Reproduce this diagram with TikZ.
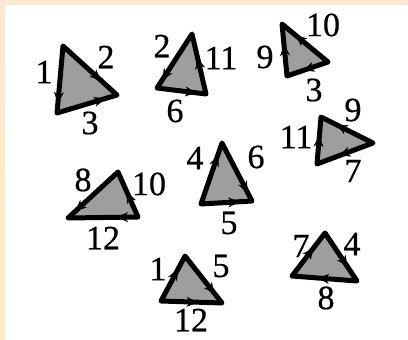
\documentclass[tikz,border=0pt]{standalone}
\usepackage{fontspec}
\setmainfont{Liberation Serif}[FakeBold=0.6]
\usetikzlibrary{arrows.meta,decorations.markings}
\definecolor{bandtop}{HTML}{FCE8D2}
\definecolor{bandleft}{HTML}{FDEBC4}
\definecolor{stip}{HTML}{9E9E9E}
\tikzset{
  tri/.style={draw=black, fill=stip, line width=5pt, line join=round},
  lab/.style={font=\fontsize{34}{34}\selectfont, inner sep=0pt},
  edgearrow/.style={draw=none, postaction={decorate, decoration={markings,
      mark=at position #1 with {\arrow{Stealth[length=11pt,width=10pt]}}}}}
}
\begin{document}
\begin{tikzpicture}[x=1pt,y=-1pt]
\useasboundingbox (0,0) rectangle (408,340);
\fill[white] (0,0) rectangle (408,340);
\fill[bandtop] (0,0) rectangle (408,5);
\shade[top color=bandtop, bottom color=bandleft] (0,0) rectangle (5,340);

% T1
\coordinate (t1a) at (63,46); \coordinate (t1b) at (117,95); \coordinate (t1c) at (57,113);
\draw[tri] (t1a) -- (t1b) -- (t1c) -- cycle;
\path[edgearrow=0.85] (t1a) -- (t1c);
\path[edgearrow=0.8] (t1c) -- (t1b);
\path[edgearrow=0.7] (t1a) -- (t1b);
\node[lab] (l1a) at (44,72) {1};
\node[lab] (l1b) at (106,57) {2};
\node[lab] (l1c) at (90,123) {3};

% T2
\coordinate (t2a) at (192,34); \coordinate (t2b) at (157,88); \coordinate (t2c) at (206,94);
\draw[tri] (t2a) -- (t2b) -- (t2c) -- cycle;
\path[edgearrow=0.85] (t2a) -- (t2b);
\path[edgearrow=0.8] (t2b) -- (t2c);
\path[edgearrow=0.6] (t2c) -- (t2a);
\node[lab] (l2a) at (162,46) {2};
\node[lab] (l2b) at (221,58) {11};
\node[lab] (l2c) at (175,111) {6};

% T3
\coordinate (t3a) at (282,24); \coordinate (t3b) at (328,62); \coordinate (t3c) at (287,76);
\draw[tri] (t3a) -- (t3b) -- (t3c) -- cycle;
\path[edgearrow=0.6] (t3c) -- (t3a);
\path[edgearrow=0.7] (t3b) -- (t3a);
\path[edgearrow=0.6] (t3b) -- (t3c);
\node[lab] (l3a) at (323,25) {10};
\node[lab] (l3b) at (265,57) {9};
\node[lab] (l3c) at (314,90) {3};

% T4
\coordinate (t4a) at (321,117); \coordinate (t4b) at (373,143); \coordinate (t4c) at (317,164);
\draw[tri] (t4a) -- (t4b) -- (t4c) -- cycle;
\path[edgearrow=0.6] (t4c) -- (t4a);
\path[edgearrow=0.7] (t4b) -- (t4a);
\path[edgearrow=0.6] (t4b) -- (t4c);
\node[lab] (l4a) at (296,137) {11};
\node[lab] (l4b) at (353,110) {9};
\node[lab] (l4c) at (353,171) {7};

% T5
\coordinate (t5a) at (222,143); \coordinate (t5b) at (201,204); \coordinate (t5c) at (252,201);
\draw[tri] (t5a) -- (t5b) -- (t5c) -- cycle;
\path[edgearrow=0.8] (t5b) -- (t5a);
\path[edgearrow=0.85] (t5a) -- (t5c);
\path[edgearrow=0.75] (t5b) -- (t5c);
\node[lab] (l5a) at (195,158) {4};
\node[lab] (l5b) at (256,157) {6};
\node[lab] (l5c) at (229,223) {5};

% T6
\coordinate (t6a) at (118,172); \coordinate (t6b) at (68,218); \coordinate (t6c) at (138,217);
\draw[tri] (t6a) -- (t6b) -- (t6c) -- cycle;
\path[edgearrow=0.85] (t6a) -- (t6b);
\path[edgearrow=0.55] (t6c) -- (t6a);
\path[edgearrow=0.3] (t6c) -- (t6b);
\node[lab] (l6a) at (83,180) {8};
\node[lab] (l6b) at (149,184) {10};
\node[lab] (l6c) at (103,238) {12};

% T7
\coordinate (t7a) at (185,256); \coordinate (t7b) at (161,301); \coordinate (t7c) at (222,303);
\draw[tri] (t7a) -- (t7b) -- (t7c) -- cycle;
\path[edgearrow=0.7] (t7b) -- (t7a);
\path[edgearrow=0.8] (t7a) -- (t7c);
\path[edgearrow=0.6] (t7b) -- (t7c);
\node[lab] (l7a) at (158,269) {1};
\node[lab] (l7b) at (221,266) {5};
\node[lab] (l7c) at (191,320) {12};

% T8
\coordinate (t8a) at (325,233); \coordinate (t8b) at (292,276); \coordinate (t8c) at (357,281);
\draw[tri] (t8a) -- (t8b) -- (t8c) -- cycle;
\path[edgearrow=0.65] (t8b) -- (t8a);
\path[edgearrow=0.7] (t8a) -- (t8c);
\path[edgearrow=0.6] (t8c) -- (t8b);
\node[lab] (l8a) at (301,246) {7};
\node[lab] (l8b) at (352,244) {4};
\node[lab] (l8c) at (326,298) {8};
\end{tikzpicture}
\end{document}
